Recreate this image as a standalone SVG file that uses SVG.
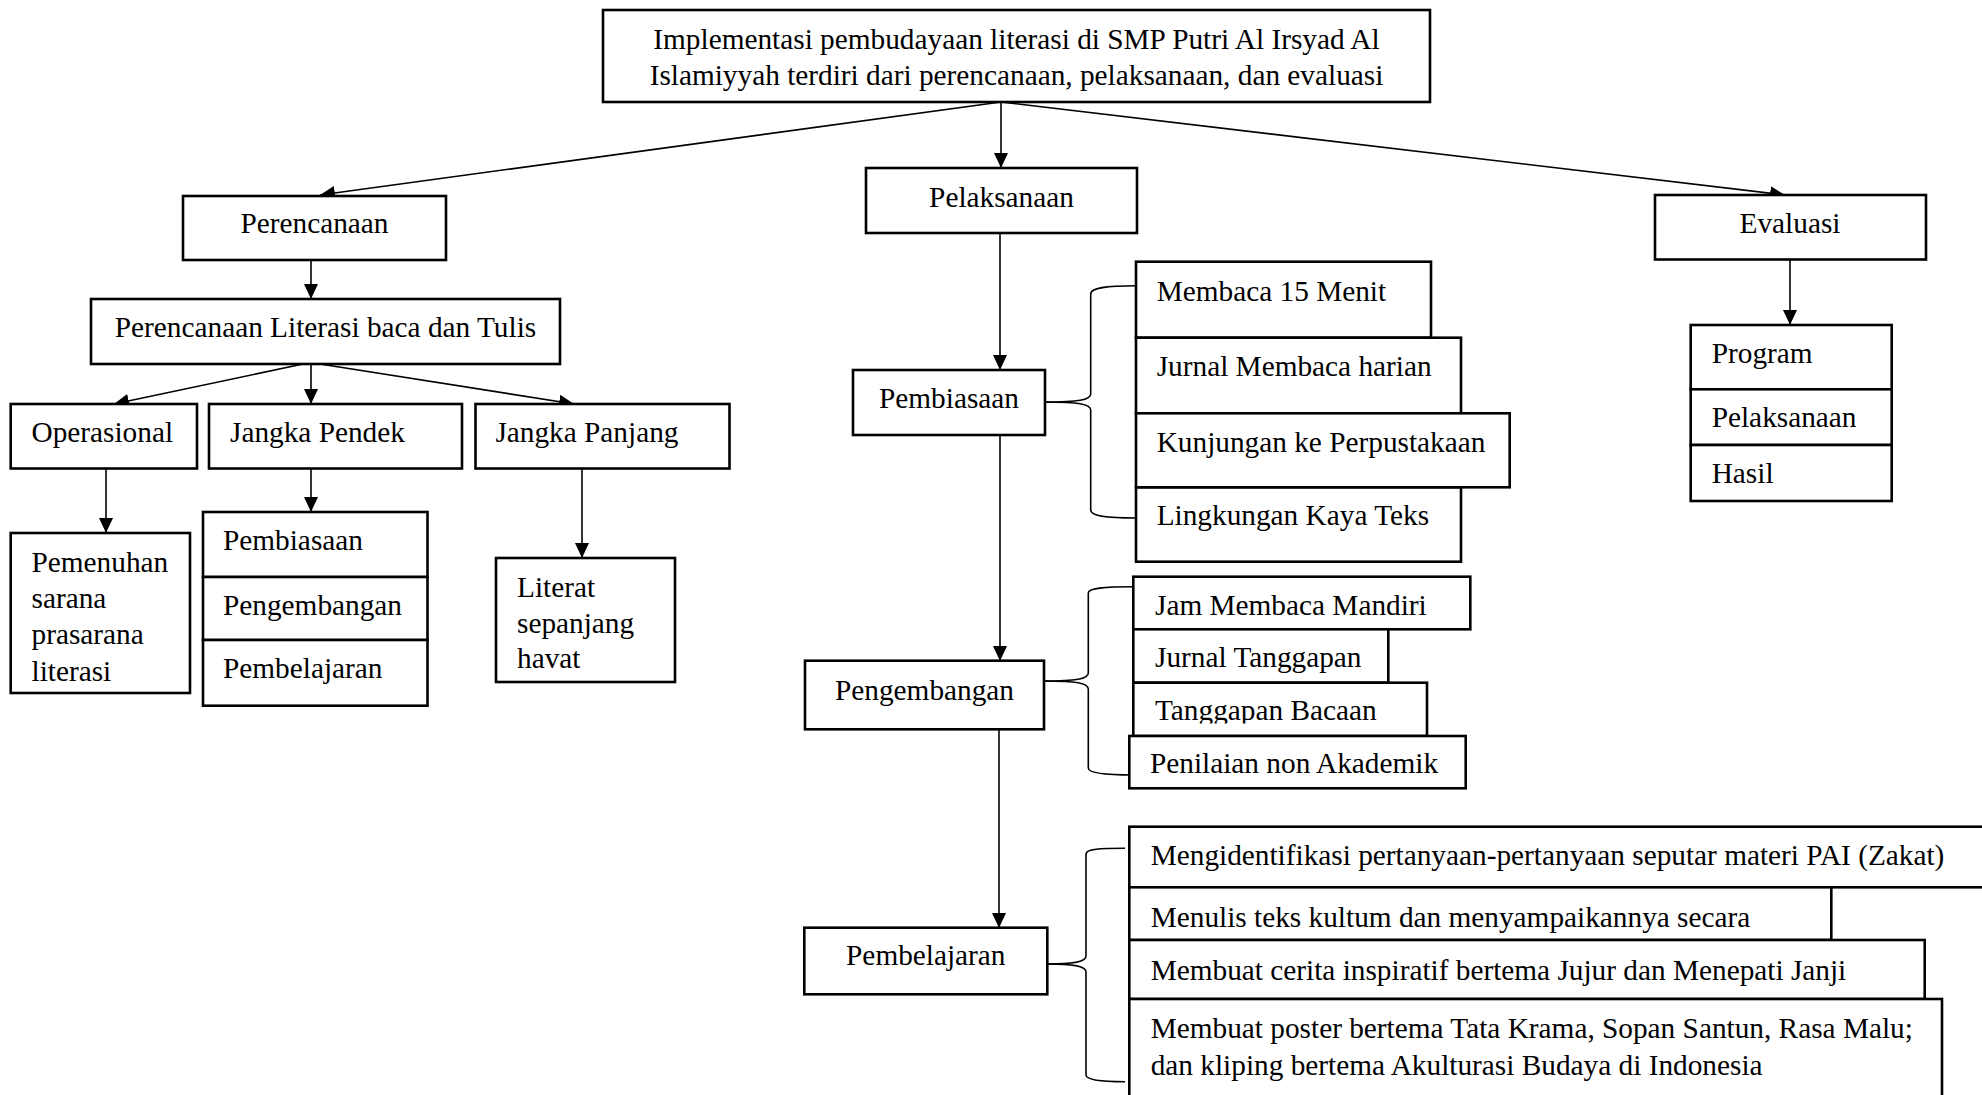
<svg xmlns="http://www.w3.org/2000/svg" width="1982" height="1095" viewBox="0 0 1982 1095">
<defs>
<style>
.box{fill:#fff;stroke:#000;stroke-width:2.6}
.t{font-family:"Liberation Serif","Times New Roman",serif;font-size:29.3px;fill:#000}
.c{text-anchor:middle}
.ln{fill:none;stroke:#000;stroke-width:1.6}
.arr{marker-end:url(#ah)}
</style>
<marker id="ah" markerUnits="userSpaceOnUse" markerWidth="16" markerHeight="14" refX="15" refY="7" orient="auto">
<path d="M0,0 L15,7 L0,14 z" fill="#000"/>
</marker>
<clipPath id="clipTB"><rect x="1130" y="684" width="300" height="39.5"/></clipPath>
</defs>
<rect width="1982" height="1095" fill="#fff"/>

<g id="connectors">
<line class="ln arr" x1="1001" y1="102" x2="320" y2="195"/>
<line class="ln arr" x1="1001" y1="102" x2="1001" y2="168"/>
<line class="ln arr" x1="1001" y1="102" x2="1785" y2="195"/>
<line class="ln arr" x1="311" y1="260" x2="311" y2="299"/>
<line class="ln arr" x1="303" y1="364" x2="114" y2="404"/>
<line class="ln arr" x1="311" y1="364" x2="311" y2="404"/>
<line class="ln arr" x1="320" y1="364" x2="574" y2="404"/>
<line class="ln arr" x1="106" y1="469" x2="106" y2="533"/>
<line class="ln arr" x1="311" y1="469" x2="311" y2="512"/>
<line class="ln arr" x1="582" y1="469" x2="582" y2="558"/>
<line class="ln arr" x1="1000" y1="233" x2="1000" y2="370"/>
<line class="ln arr" x1="1000" y1="435" x2="1000" y2="661"/>
<line class="ln arr" x1="999" y1="729" x2="999" y2="928"/>
<line class="ln arr" x1="1790" y1="259" x2="1790" y2="325"/>
<path class="ln" d="M1045,402 C1078,402 1090.7,400 1090.7,394 L1090.7,294 C1090.7,288 1105,285.7 1136,285.7"/>
<path class="ln" d="M1045,402 C1078,402 1090.7,404 1090.7,410 L1090.7,510 C1090.7,516 1105,518 1136,518"/>
<path class="ln" d="M1044,681 C1076,681 1088.3,679 1088.3,673 L1088.3,593 C1088.3,588 1103,586.7 1133,586.7"/>
<path class="ln" d="M1044,681 C1076,681 1088.3,683 1088.3,689 L1088.3,768 C1088.3,773 1103,775 1133,775"/>
<path class="ln" d="M1047,964 C1074,964 1086,962 1086,956 L1086,854 C1086,849 1100,848.3 1125,848.3"/>
<path class="ln" d="M1047,964 C1074,964 1086,966 1086,972 L1086,1075 C1086,1080 1100,1081.7 1125,1081.7"/>
</g>

<g id="n-top">
<rect class="box" x="603" y="10" width="827" height="92"/>
<text class="t c" x="1016.5" y="49">Implementasi pembudayaan literasi di SMP Putri Al Irsyad Al</text>
<text class="t c" x="1016.5" y="84.5">Islamiyyah terdiri dari perencanaan, pelaksanaan, dan evaluasi</text>
</g>

<g id="n-perencanaan">
<rect class="box" x="183" y="196" width="263" height="64"/>
<text class="t c" x="314.5" y="233">Perencanaan</text>
</g>
<g id="n-pelaksanaan">
<rect class="box" x="866" y="168" width="271" height="65"/>
<text class="t c" x="1001.5" y="206.7">Pelaksanaan</text>
</g>
<g id="n-evaluasi">
<rect class="box" x="1655" y="195" width="271" height="64.5"/>
<text class="t c" x="1790" y="233.3">Evaluasi</text>
</g>

<g id="n-plbt">
<rect class="box" x="91" y="299" width="469" height="65"/>
<text class="t c" x="325.5" y="337">Perencanaan Literasi baca dan Tulis</text>
</g>

<g id="n-operasional">
<rect class="box" x="10.7" y="404" width="186.3" height="64.5"/>
<text class="t" x="31.5" y="441.7">Operasional</text>
</g>
<g id="n-jangka-pendek">
<rect class="box" x="209" y="404" width="253" height="64.5"/>
<text class="t" x="230" y="441.7">Jangka Pendek</text>
</g>
<g id="n-jangka-panjang">
<rect class="box" x="475.5" y="404" width="254" height="64.5"/>
<text class="t" x="495.4" y="441.7">Jangka Panjang</text>
</g>

<g id="n-pemenuhan">
<rect class="box" x="10.7" y="533" width="179.3" height="160"/>
<text class="t" x="31.5" y="572">Pemenuhan</text>
<text class="t" x="31.5" y="607.5">sarana</text>
<text class="t" x="31.5" y="643.5">prasarana</text>
<text class="t" x="31.5" y="680.5">literasi</text>
</g>

<g id="n-jp-pembiasaan">
<rect class="box" x="203" y="512" width="224.5" height="65"/>
<text class="t" x="223" y="550">Pembiasaan</text>
</g>
<g id="n-jp-pengembangan">
<rect class="box" x="203" y="577" width="224.5" height="63"/>
<text class="t" x="223" y="615">Pengembangan</text>
</g>
<g id="n-jp-pembelajaran">
<rect class="box" x="203" y="640" width="224.5" height="65.7"/>
<text class="t" x="223" y="678">Pembelajaran</text>
</g>

<g id="n-literat">
<rect class="box" x="496" y="558" width="179" height="124"/>
<text class="t" x="517" y="597">Literat</text>
<text class="t" x="517" y="633">sepanjang</text>
<text class="t" x="517" y="668">havat</text>
</g>

<g id="n-pembiasaan">
<rect class="box" x="853" y="370" width="192" height="65"/>
<text class="t c" x="949" y="408">Pembiasaan</text>
</g>
<g id="n-membaca15">
<rect class="box" x="1136" y="261.7" width="295" height="76"/>
<text class="t" x="1156.7" y="300.5">Membaca 15 Menit</text>
</g>
<g id="n-jurnal-membaca">
<rect class="box" x="1136" y="337.7" width="325" height="75.6"/>
<text class="t" x="1156.7" y="375.5">Jurnal Membaca harian</text>
</g>
<g id="n-kunjungan">
<rect class="box" x="1136" y="413.3" width="373.7" height="74"/>
<text class="t" x="1156.7" y="451.7">Kunjungan ke Perpustakaan</text>
</g>
<g id="n-lingkungan">
<rect class="box" x="1136" y="487.5" width="325" height="74.2"/>
<text class="t" x="1156.7" y="525">Lingkungan Kaya Teks</text>
</g>

<g id="n-pengembangan">
<rect class="box" x="805" y="660.7" width="239" height="68.6"/>
<text class="t c" x="924.5" y="700">Pengembangan</text>
</g>
<g id="n-jam">
<rect class="box" x="1133.3" y="576.7" width="337" height="52.6"/>
<text class="t" x="1155" y="615">Jam Membaca Mandiri</text>
</g>
<g id="n-jurnal-tanggapan">
<rect class="box" x="1133.3" y="629.3" width="255" height="53.4"/>
<text class="t" x="1155" y="667">Jurnal Tanggapan</text>
</g>
<g id="n-tanggapan-bacaan">
<rect class="box" x="1133.3" y="682.7" width="293.7" height="53.3"/>
<text class="t" x="1155" y="719.5" clip-path="url(#clipTB)">Tanggapan Bacaan</text>
</g>
<g id="n-penilaian">
<rect class="box" x="1129.3" y="736" width="336.4" height="52.3"/>
<text class="t" x="1150" y="773.3">Penilaian non Akademik</text>
</g>

<g id="n-pembelajaran">
<rect class="box" x="804.3" y="927.7" width="243" height="66.6"/>
<text class="t c" x="925.8" y="965">Pembelajaran</text>
</g>
<g id="n-mengidentifikasi">
<rect class="box" x="1129.3" y="826.7" width="870" height="60.6"/>
<text class="t" x="1150.7" y="865">Mengidentifikasi pertanyaan-pertanyaan seputar materi PAI (Zakat)</text>
</g>
<g id="n-menulis">
<rect class="box" x="1129.3" y="887.3" width="702" height="52.7"/>
<text class="t" x="1150.7" y="926.5">Menulis teks kultum dan menyampaikannya secara</text>
</g>
<g id="n-cerita">
<rect class="box" x="1129.3" y="940" width="795.4" height="59"/>
<text class="t" x="1150.7" y="979.5">Membuat cerita inspiratif bertema Jujur dan Menepati Janji</text>
</g>
<g id="n-poster">
<rect class="box" x="1129.3" y="999" width="812.7" height="110"/>
<text class="t" x="1150.7" y="1038">Membuat poster bertema Tata Krama, Sopan Santun, Rasa Malu;</text>
<text class="t" x="1150.7" y="1074.5">dan kliping bertema Akulturasi Budaya di Indonesia</text>
</g>

<g id="n-program">
<rect class="box" x="1690.7" y="325" width="201" height="64.3"/>
<text class="t" x="1711.7" y="363.3">Program</text>
</g>
<g id="n-ev-pelaksanaan">
<rect class="box" x="1690.7" y="389.3" width="201" height="55.7"/>
<text class="t" x="1711.7" y="426.7">Pelaksanaan</text>
</g>
<g id="n-hasil">
<rect class="box" x="1690.7" y="445" width="201" height="56"/>
<text class="t" x="1711.7" y="483.3">Hasil</text>
</g>
</svg>
